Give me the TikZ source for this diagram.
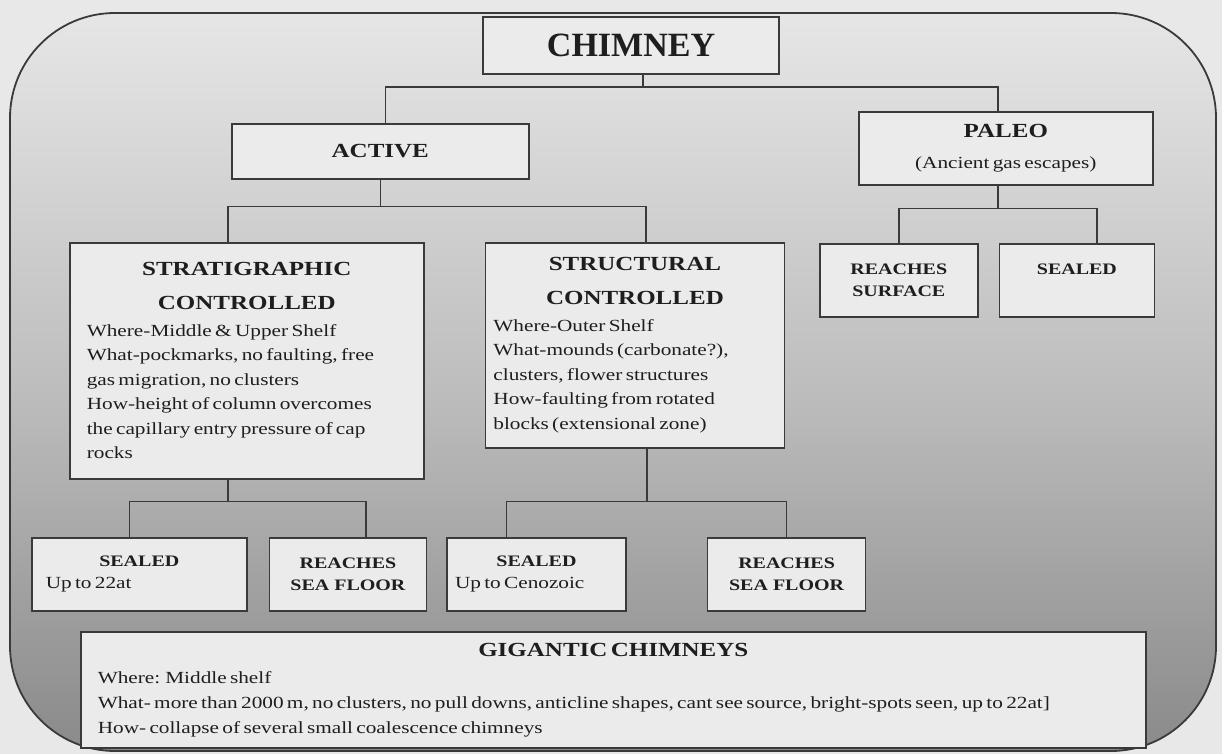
\documentclass[tikz,border=0pt]{standalone}
\usepackage{fontspec}
\setmainfont{Liberation Serif}[FakeStretch=1.25]
\newfontfamily\plainserif{Liberation Serif}
\usepackage{tikz}
\usetikzlibrary{positioning}
\definecolor{pagebg}{HTML}{E8E8E8}
\definecolor{shadetop}{HTML}{E6E6E6}
\definecolor{shademid}{HTML}{BEBEBE}
\definecolor{shadebot}{HTML}{8A8A8A}
\definecolor{boxfill}{HTML}{EBEBEB}
\definecolor{boxline}{HTML}{3A3A3A}
\definecolor{ink}{HTML}{1E1E1E}
\newcommand{\hdbig}{\fontsize{20}{34}\selectfont\bfseries}
\newcommand{\hdsmall}{\fontsize{16}{22}\selectfont\bfseries}
\newcommand{\bodytxt}{\fontsize{17}{24.5}\selectfont}
\newcommand{\leafbody}{\fontsize{17}{22}\selectfont}
\tikzset{
  rootbox/.style={
    rectangle, draw=boxline, fill=boxfill, line width=1.6pt,
    text=ink, align=center, inner sep=0pt
  },
  catbox/.style={
    rectangle, draw=boxline, fill=boxfill, line width=1.6pt,
    text=ink, align=left, inner xsep=#1, inner ysep=0pt
  },
  catbox/.default=17pt,
  leafbox/.style={
    rectangle, draw=boxline, fill=boxfill, line width=1.6pt,
    text=ink, align=center, inner sep=0pt,
    minimum height=73pt, font=\hdsmall
  },
  link/.style={draw=boxline, line width=1.6pt},
  frame/.style={
    draw=boxline, line width=1.8pt, rounded corners=105pt,
    top color=shadetop, bottom color=shadebot, middle color=shademid
  },
}

\begin{document}
\begin{tikzpicture}[x=1pt, y=1pt]
  \useasboundingbox (0,0) rectangle (1222,-754);
  \fill[pagebg] (0,0) rectangle (1222,-754);
  \path[frame] (10,-13) rectangle (1216,-751);

  % Top levels
  \node[rootbox, minimum width=296pt, minimum height=57pt,
        font=\plainserif\fontsize{34}{40}\selectfont\bfseries] (chim) at (631,-45.5) {CHIMNEY};
  \node[rootbox, minimum width=297pt, minimum height=55pt, font=\hdbig,
        anchor=north west] (active) at (231,-123) {ACTIVE};
  \node[catbox=0pt, text width=294pt, minimum height=73pt,
        anchor=north west] (paleo) at (858,-111)
    {\centering{\hdbig PALEO\par}\fontsize{17}{31}\selectfont (Ancient gas escapes)\par};

  % Active branches
  \node[catbox=17pt, text width=320pt, minimum height=236pt,
        anchor=north west] (strat) at (69,-242)
    {{\centering\hdbig STRATIGRAPHIC\\CONTROLLED\par}\vspace{2pt}\bodytxt
     Where-Middle \& Upper Shelf\\What-pockmarks, no faulting, free\\gas migration, no clusters\\
     How-height of column overcomes\\the capillary entry pressure of cap\\rocks\par};
  \node[catbox=8pt, text width=283pt, minimum height=205pt,
        right=60pt of strat.north east, anchor=north west] (struct)
    {{\centering\hdbig STRUCTURAL\\CONTROLLED\par}\vspace{2pt}\bodytxt
     Where-Outer Shelf\\What-mounds (carbonate?),\\clusters, flower structures\\
     How-faulting from rotated\\blocks (extensional zone)\par};

  % Paleo branches
  \node[leafbox, minimum width=158pt, anchor=north west] (surf) at (819,-243) {REACHES\\SURFACE};
  \node[leafbox, minimum width=155pt, right=20pt of surf] (psealed) {SEALED\\\mbox{}};

  % Leaves
  \node[catbox=14pt, text width=187pt, minimum height=73pt,
        anchor=north west] (sealA) at (31,-537)
    {{\centering\hdsmall SEALED\par}\leafbody Up to 22at\par};
  \node[leafbox, minimum width=157pt, right=21pt of sealA] (reachA) {REACHES\\SEA FLOOR};
  \node[catbox=8pt, text width=163pt, minimum height=73pt, right=19pt of reachA] (sealB)
    {{\centering\hdsmall SEALED\par}\leafbody Up to Cenozoic\par};
  \node[leafbox, minimum width=158pt, right=80pt of sealB] (reachB) {REACHES\\SEA FLOOR};

  % Gigantic
  \node[catbox=17pt, text width=1031pt, minimum height=116pt,
        anchor=north west] (giga) at (80,-631)
    {{\centering\hdbig GIGANTIC CHIMNEYS\par}\vspace{2pt}\fontsize{17}{25}\selectfont
     Where: Middle shelf\\
     \mbox{What- more than 2000 m, no clusters, no pull downs, anticline shapes, cant see source, bright-spots seen, up to 22at]}\\
     How- collapse of several small coalescence chimneys\par};

  % Connectors
  \draw[link] ([xshift=12pt]chim.south) -- ++(0,-12) -| ([xshift=5pt]active.north);
  \draw[link] ([xshift=12pt]chim.south) ++(0,-12) -| ([xshift=-8pt]paleo.north);
  \draw[link] (active.south) -- ++(0,-27) -| ([xshift=-19pt]strat.north);
  \draw[link] (active.south) ++(0,-27) -| ([xshift=11pt]struct.north);
  \draw[link] ([xshift=-8pt]paleo.south) -- ++(0,-23) -| (surf.north);
  \draw[link] ([xshift=-8pt]paleo.south) ++(0,-23) -| ([xshift=20pt]psealed.north);
  \draw[link] ([xshift=-19pt]strat.south) -- ++(0,-22) -| ([xshift=-10pt]sealA.north);
  \draw[link] ([xshift=-19pt]strat.south) ++(0,-22) -| ([xshift=18pt]reachA.north);
  \draw[link] ([xshift=12pt]struct.south) -- ++(0,-53) -| ([xshift=-30pt]sealB.north);
  \draw[link] ([xshift=12pt]struct.south) ++(0,-53) -| (reachB.north);
\end{tikzpicture}
\end{document}
